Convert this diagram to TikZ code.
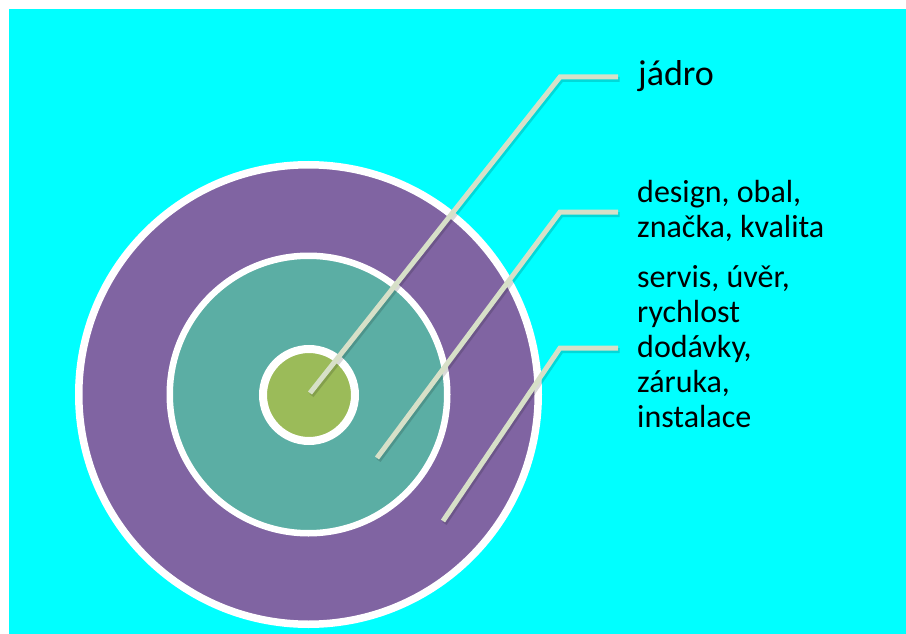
\documentclass[tikz,border=0pt]{standalone}
\usepackage{fontspec}
\setmainfont{Carlito}
\usetikzlibrary{shadows}
\definecolor{bgcyan}{RGB}{0,255,255}
\definecolor{ringpurple}{RGB}{128,100,162}
\definecolor{ringteal}{RGB}{91,174,164}
\definecolor{ringgreen}{RGB}{155,187,89}
\definecolor{leader}{RGB}{215,224,200}
\begin{document}
\begin{tikzpicture}[x=1pt,y=-1pt,
  ring/.style={circle, draw=white, inner sep=0pt,
    drop shadow={opacity=0.25, shadow xshift=1.5pt, shadow yshift=-2pt}},
  leaderline/.style={draw=leader, line width=5pt, line cap=butt, line join=miter},
  leadershadow/.style={draw=black, opacity=0.15, line width=5pt, line join=miter},
  lbl/.style={anchor=base west, inner sep=0pt, align=left,
    font=\fontsize{32}{35}\selectfont, text=black}]
\useasboundingbox (0,0) rectangle (906,634);
\fill[white] (0,0) rectangle (906,634);
\fill[bgcyan] (9,9) rectangle (906,634);
% rings
\node[ring, fill=ringpurple, line width=7.5pt, minimum size=459.5pt] (outer) at (308.5,394.5) {};
\node[ring, fill=ringteal, line width=6.5pt, minimum size=277.5pt] (middle) at (308.5,394.5) {};
\node[ring, fill=ringgreen, line width=8pt, minimum size=92pt] (inner) at (309,395) {};
% labels (anchored at the baseline of their last line)
\node[lbl, font=\fontsize{36}{40}\selectfont] (tjadro) at (638,86) {jádro};
\node[lbl] (tdesign) at (637,237) {design, obal,\\značka, kvalita};
\node[lbl] (tservis) at (637,427) {servis, úvěr,\\rychlost\\dodávky,\\záruka,\\instalace};
% leader points
\coordinate (p1) at (310,393);
\coordinate (b1) at (560,77);
\coordinate (e1) at (618,77);
\coordinate (p2) at (377,458);
\coordinate (b2) at (560,212);
\coordinate (e2) at (618,212);
\coordinate (p3) at (443,521);
\coordinate (b3) at (560,348);
\coordinate (e3) at (618,348);
\foreach \p/\b/\e in {p1/b1/e1,p2/b2/e2,p3/b3/e3}{
  \draw[leadershadow, transform canvas={xshift=1.5pt, yshift=-2.5pt}] (\p) -- (\b) -- (\e);
  \draw[leaderline] (\p) -- (\b) -- (\e);
}
\end{tikzpicture}
\end{document}
